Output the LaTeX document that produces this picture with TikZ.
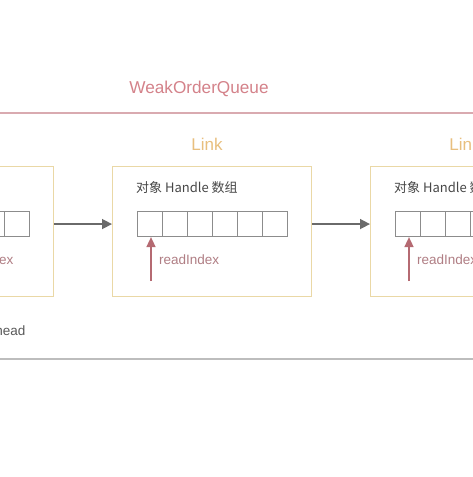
\documentclass[tikz,border=0pt]{standalone}
\usepackage{fontspec}
\setmainfont{Liberation Sans}
\newfontfamily\cjk{Noto Sans CJK SC}
\usetikzlibrary{arrows.meta}
\definecolor{qred}{HTML}{D4828A}
\definecolor{qline}{HTML}{D9AAB0}
\definecolor{lgold}{HTML}{E8BF7E}
\definecolor{boxc}{HTML}{EAD8A6}
\definecolor{cellc}{HTML}{8C8C8C}
\definecolor{rarrow}{HTML}{B56A72}
\definecolor{rtext}{HTML}{B07E84}
\definecolor{garrow}{HTML}{6A6A6A}
\definecolor{bline}{HTML}{BDBDBD}
\tikzset{
  linkbox/.style={draw=boxc, line width=1.3pt, fill=white, minimum width=199pt, minimum height=130pt, inner sep=0pt, anchor=north west},
  cellbox/.style={draw=cellc, line width=1.1pt, minimum width=25pt, minimum height=25pt, inner sep=0pt, anchor=north west},
  linklabel/.style={text=lgold, font=\fontsize{17}{20}\selectfont, inner sep=0pt},
  titlelabel/.style={text=black!72, font=\cjk\fontsize{13}{15}\selectfont, inner sep=0pt, anchor=west},
  idxlabel/.style={text=rtext, font=\fontsize{13.5}{16}\selectfont, inner sep=0pt},
  redarrow/.style={draw=rarrow, line width=1.6pt, -{Triangle[length=10pt,width=9pt]}},
  grayarrow/.style={draw=garrow, line width=1.5pt, -{Triangle[length=10pt,width=10pt]}}
}
\begin{document}
\begin{tikzpicture}[x=1pt,y=-1pt]
\useasboundingbox (0,0) rectangle (473,477);
\clip (0,0) rectangle (473,477);
\fill[white] (0,0) rectangle (473,477);
% queue title and border lines
\node[text=qred, font=\fontsize{17.2}{20}\selectfont, inner sep=0pt] (wq) at (199,89) {WeakOrderQueue};
\coordinate (tl) at (0,113);
\coordinate (tr) at (473,113);
\draw[qline, line width=1.5pt] (tl) -- (tr);
\coordinate (bl) at (0,359);
\coordinate (br) at (473,359);
\draw[bline, line width=1.3pt] (bl) -- (br);
% links
\foreach \i in {0,1,2} {
  \pgfmathsetmacro\bx{-146+258*\i}
  \node[linkbox] (L\i) at (\bx,166) {};
  \foreach \j in {0,...,5} {
    \node[cellbox] (c\i\j) at (\bx+25+25*\j,211) {};
  }
}
% labels of the visible links
\foreach \i in {1,2} {
  \pgfmathsetmacro\bx{-146+258*\i}
  \node[linklabel] (LL\i) at (\bx+95,144) {Link};
  \node[titlelabel] (T\i) at (\bx+24,188) {对象 Handle 数组};
  \coordinate (r\i) at (\bx+39,281);
  \draw[redarrow] (r\i) -- (r\i |- c\i0.south);
  \node[idxlabel, anchor=west] (ri\i) at (\bx+47,260) {readIndex};
}
\node[idxlabel, anchor=east] (ri0) at (13.5,260) {readIndex};
% link arrows
\draw[grayarrow] (L0.east |- c00.center) -- (L1.west |- c00.center);
\draw[grayarrow] (L1.east |- c10.center) -- (L2.west |- c10.center);
% head label
\node[text=black!65, font=\fontsize{13.5}{16}\selectfont, inner sep=0pt, anchor=east] (head) at (25.5,331) {head};
\end{tikzpicture}
\end{document}
